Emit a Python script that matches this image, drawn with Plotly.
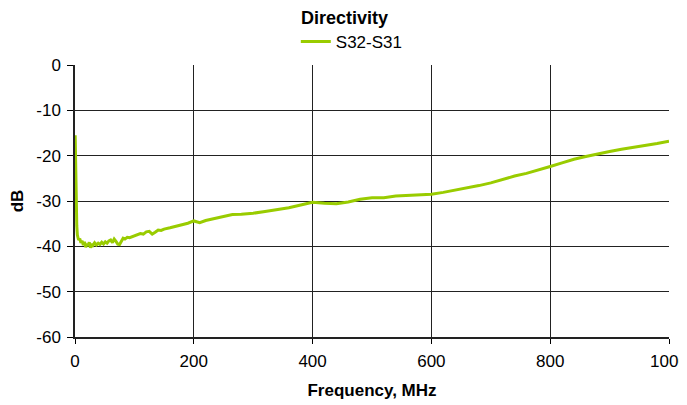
import plotly.graph_objects as go

freq_mhz = [0.3, 1, 2, 3, 4, 5, 6, 8, 10, 12, 14, 16, 18, 20, 22, 24, 26, 28, 30, 33, 36, 39, 42, 45, 48,
            51, 54, 57, 60, 63, 66, 69, 72, 75, 78, 81, 84, 88, 92, 96, 100, 105, 110, 115, 120, 125, 130,
            135, 140, 145, 150, 160, 170, 180, 190, 200, 210, 220, 235, 250, 265, 280, 300, 320, 340, 360,
            380, 400, 420, 440, 460, 480, 500, 520, 540, 560, 580, 600, 620, 640, 660, 680, 700, 720, 740,
            760, 780, 800, 820, 840, 860, 880, 900, 920, 940, 960, 980, 1000]
s32_s31_db = [-15.5, -22, -31, -35.5, -37.5, -38, -38.6, -38.3, -39.2, -38.8, -39.7, -39.0, -40.2, -39.4,
              -39.9, -39.1, -40.3, -39.5, -39.8, -39.2, -39.7, -39.3, -39.6, -39.1, -39.5, -39.0, -39.3,
              -38.8, -38.6, -39.2, -38.4, -38.9, -39.5, -39.6, -38.7, -38.2, -38.4, -38.0, -38.1, -37.9,
              -37.8, -37.5, -37.2, -37.3, -36.8, -36.7, -37.3, -36.9, -36.4, -36.5, -36.2, -35.9, -35.6,
              -35.3, -34.9, -34.4, -34.8, -34.3, -33.9, -33.4, -33.0, -32.9, -32.7, -32.3, -31.9, -31.5,
              -30.9, -30.3, -30.5, -30.6, -30.2, -29.6, -29.3, -29.3, -28.9, -28.8, -28.7, -28.5, -28.1,
              -27.6, -27.2, -26.6, -26.0, -25.2, -24.5, -23.9, -23.2, -22.4, -21.6, -20.8, -20.2, -19.6,
              -19.1, -18.6, -18.2, -17.7, -17.3, -16.8]

x_ticks = [0, 200, 400, 600, 800, 1000]
x_tick_labels = ["0", "200", "400", "600", "800", "1000"]
y_ticks = [0, -10, -20, -30, -40, -50, -60]
y_tick_labels = ["0", "-10", "-20", "-30", "-40", "-50", "-60"]

font_family = "Liberation Sans, Arial, sans-serif"

fig = go.Figure()
fig.add_trace(go.Scatter(
    x=freq_mhz, y=s32_s31_db, mode="lines", name="S32-S31",
    line=dict(color="#99CC00", width=3),
))

fig.update_layout(
    width=687, height=405,
    margin=dict(l=67, r=26, t=57, b=76),
    paper_bgcolor="white", plot_bgcolor="white",
    font=dict(family=font_family, size=17, color="black"),
    title=dict(text="<b>Directivity</b>", xref="paper", yref="container",
               x=0.4537, xanchor="center", y=0.975, yanchor="middle",
               font=dict(size=18, family=font_family, color="black")),
    showlegend=True,
    legend=dict(orientation="h", x=0.466, xanchor="center", y=1.085, yanchor="middle",
                font=dict(size=17), bgcolor="rgba(0,0,0,0)", itemwidth=30),
    xaxis=dict(
        range=[0, 1000], tickvals=x_ticks, ticktext=x_tick_labels, automargin=False,
        ticks="outside", ticklen=5, tickcolor="black", ticklabelstandoff=3,
        showgrid=True, gridcolor="#222222", gridwidth=1,
        showline=True, linecolor="#222222", linewidth=2, mirror=False,
        zeroline=False,
        title=dict(text="<b>Frequency, MHz</b>", font=dict(size=17), standoff=14),
        tickfont=dict(size=17),
    ),
    yaxis=dict(
        range=[-60, 0], tickvals=y_ticks, ticktext=y_tick_labels, automargin=False,
        ticks="outside", ticklen=6, tickcolor="black", ticklabelstandoff=3,
        showgrid=True, gridcolor="#222222", gridwidth=1,
        showline=True, linecolor="#222222", linewidth=1.5,
        zeroline=False,
        title=dict(text="<b>dB</b>", font=dict(size=17), standoff=10),
        tickfont=dict(size=17),
    ),
)

fig.write_html("out.html")
